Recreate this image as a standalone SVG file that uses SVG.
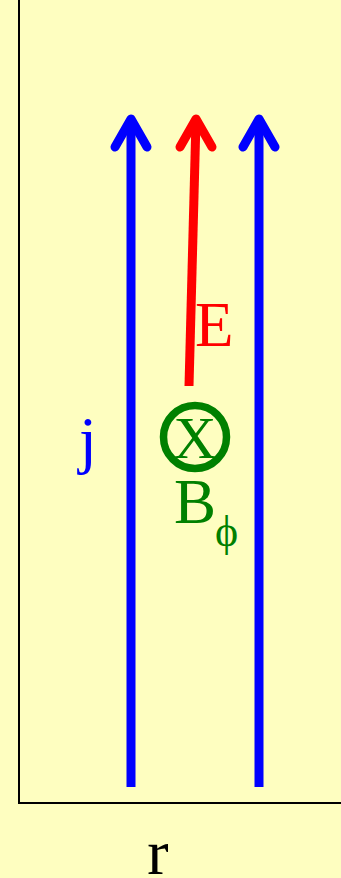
<svg xmlns="http://www.w3.org/2000/svg" width="341" height="878" viewBox="0 0 341 878">
<style>
.t{font-family:"Liberation Serif","Times New Roman",serif}
.blue{stroke:#0000FF}
.red{stroke:#FF0000}
.arr{fill:none;stroke-width:9;stroke-linecap:round;stroke-linejoin:round}
</style>
<rect x="0" y="0" width="341" height="878" fill="#FEFEC0"/>
<g id="axes" fill="none" stroke="#000" stroke-width="2">
<path d="M19,0 V803 H341"/>
</g>
<g id="connectors">
<g id="j-left" class="arr blue">
<line x1="131" y1="787" x2="131" y2="120" stroke-linecap="butt"/>
<polyline points="115,147 131,119 147,147"/>
</g>
<g id="j-right" class="arr blue">
<line x1="259" y1="787" x2="259" y2="120" stroke-linecap="butt"/>
<polyline points="243,147 259,119 275,147"/>
</g>
<g id="E-arrow" class="arr red">
<line x1="189" y1="386" x2="196" y2="120" stroke-linecap="butt"/>
<polyline points="180,147 196,119 212,147"/>
</g>
</g>
<g id="B-symbol">
<circle cx="195" cy="437" r="31.5" fill="none" stroke="#008000" stroke-width="7.5"/>
<text class="t" x="195" y="458" font-size="60" fill="#008000" text-anchor="middle">X</text>
</g>
<g id="labels">
<text class="t" x="195" y="346" font-size="63" fill="#FF0000">E</text>
<text class="t" x="174" y="523" font-size="63" fill="#008000">B</text>
<text class="t" x="215" y="546" font-size="44" fill="#008000">ϕ</text>
<text class="t" x="79" y="461" font-size="64" fill="#0000FF">j</text>
<text class="t" x="158" y="874" font-size="64" fill="#000" text-anchor="middle">r</text>
</g>
</svg>
